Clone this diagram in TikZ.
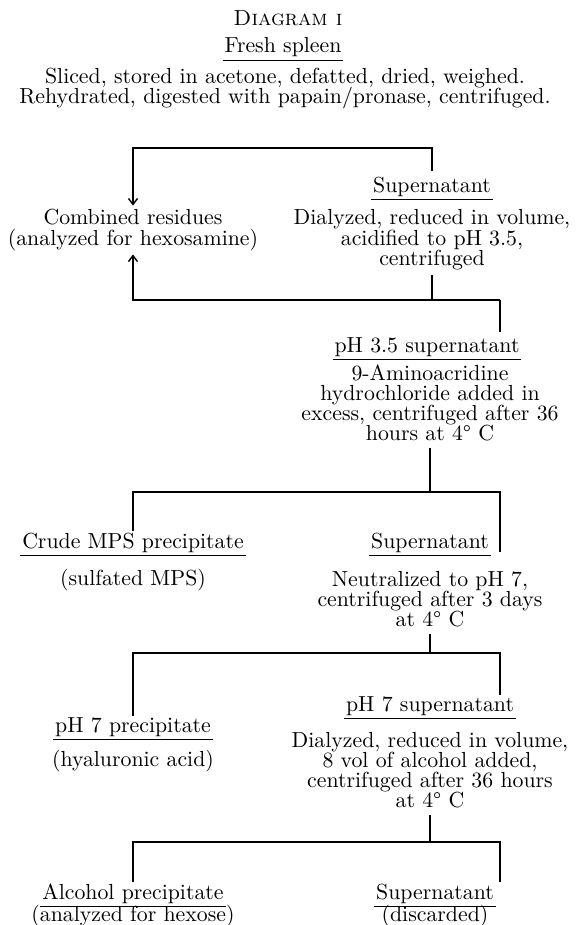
\documentclass[tikz,border=0pt]{standalone}
\usetikzlibrary{arrows.meta}
\begin{document}
\begin{tikzpicture}[x=0.5pt,y=-0.5pt,
  txt/.style={inner sep=0pt, outer sep=0pt, anchor=base, font=\fontsize{10.9}{10}\selectfont},
  head/.style={txt, inner xsep=1pt, inner ysep=0.6pt, text depth=3.2pt,
    append after command={(\tikzlastnode.south west) edge[line width=0.6pt] (\tikzlastnode.south east)}},
  ln/.style={line width=0.7pt},
  arr/.style={-{Straight Barb[length=3pt,width=4.5pt]}}
]
\useasboundingbox (0,0) rectangle (580,925);
% title block
\node[txt] (title) at (288,26) {\textsc{Diagram i}};
\node[head] (fresh) at (283,53) {Fresh spleen};
\node[txt] (sl1) at (285,84) {Sliced, stored in acetone, defatted, dried, weighed.};
\node[txt] (sl2) at (285,104) {Rehydrated, digested with papain/pronase, centrifuged.};
% first stage
\node[head] (sup1) at (432,192) {Supernatant};
\node[txt] (da1) at (432,225) {Dialyzed, reduced in volume,};
\node[txt] (da2) at (432,245) {acidified to pH 3.5,};
\node[txt] (da3) at (432,265) {centrifuged};
\node[txt] (cb1) at (133,225) {Combined residues};
\node[txt] (cb2) at (133,245) {(analyzed for hexosamine)};
% second stage
\node[head] (ph35) at (427,352) {pH 3.5 supernatant};
\node[txt] (am1) at (430,380) {9-Aminoacridine};
\node[txt] (am2) at (430,400) {hydrochloride added in};
\node[txt] (am3) at (430,420) {excess, centrifuged after 36};
\node[txt] (am4) at (430,440) {hours at 4\textdegree{} C};
% third stage
\node[head] (crude) at (133,548) {Crude MPS precipitate};
\node[txt] (sulf) at (133,585) {(sulfated MPS)};
\node[head] (sup2) at (430,548) {Supernatant};
\node[txt] (ne1) at (430,586) {Neutralized to pH 7,};
\node[txt] (ne2) at (430,606) {centrifuged after 3 days};
\node[txt] (ne3) at (430,626) {at 4\textdegree{} C};
% fourth stage
\node[head] (ph7s) at (430,711) {pH 7 supernatant};
\node[txt] (dl1) at (430,747) {Dialyzed, reduced in volume,};
\node[txt] (dl2) at (430,767) {8 vol of alcohol added,};
\node[txt] (dl3) at (430,787) {centrifuged after 36 hours};
\node[txt] (dl4) at (430,807) {at 4\textdegree{} C};
\node[head] (ph7p) at (133,732) {pH 7 precipitate};
\node[txt] (hy) at (133,766) {(hyaluronic acid)};
% fifth stage
\node[head] (alc) at (133,899) {Alcohol precipitate};
\node[txt] (hex) at (133,921) {(analyzed for hexose)};
\node[head] (sup3) at (435,899) {Supernatant};
\node[txt] (disc) at (435,921) {(discarded)};
% junction coordinates
\coordinate (t1) at (432,148);
\coordinate (t2) at (133,148);
\coordinate (b1) at (432,300);
\coordinate (b2) at (133,300);
\coordinate (b3) at (500,300);
\coordinate (c1) at (430,492);
\coordinate (c2) at (133,492);
\coordinate (c3) at (500,492);
\coordinate (c4) at (500,552);
\coordinate (d1) at (430,653);
\coordinate (d2) at (133,653);
\coordinate (d3) at (500,653);
\coordinate (e1) at (430,842);
\coordinate (e2) at (133,842);
\coordinate (e3) at (500,842);
% connectors
\draw[ln,arr,shorten <=2pt,shorten >=2pt] (sup1.north) -- (t1) -- (t2) -- (cb1.north);
\draw[ln,shorten <=3pt] (da3.south) -- (b1);
\draw[ln,arr,shorten >=2pt] (b3) -- (b2) -- (cb2.south);
\draw[ln,shorten >=2pt] (b3) -- (ph35.north -| b3);
\draw[ln,shorten <=4pt] (am4.south) -- (c1);
\draw[ln] (crude.north) -- (c2) -- (c3) -- (c4);
\draw[ln,shorten <=4pt] (ne3.south) -- (d1);
\draw[ln] (ph7p.north) -- (d2) -- (d3) -- (ph7s.north -| d3);
\draw[ln,shorten <=4pt] (dl4.south) -- (e1);
\draw[ln] (alc.north) -- (e2) -- (e3) -- (sup3.north -| e3);
\end{tikzpicture}
\end{document}
